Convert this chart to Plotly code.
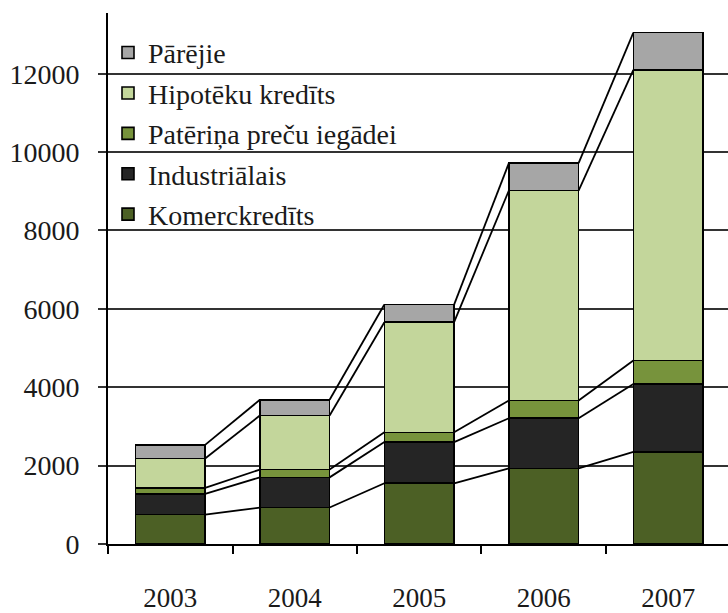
import plotly.graph_objects as go

# Loan portfolio by type, stacked per year
years = ["2003", "2004", "2005", "2006", "2007"]
komerckredits = [750, 930, 1550, 1930, 2350]
industrialais = [530, 770, 1050, 1280, 1730]
pateriņa = [150, 200, 250, 450, 600]
hipoteku = [750, 1380, 2810, 5360, 7420]
parejie = [350, 400, 450, 700, 950]

series = [
    ("Komerckredīts", komerckredits, "#4c6025"),
    ("Industriālais", industrialais, "#252525"),
    ("Patēriņa preču iegādei", pateriņa, "#77933c"),
    ("Hipotēku kredīts", hipoteku, "#c3d69b"),
    ("Pārējie", parejie, "#a6a6a6"),
]

BAR_WIDTH = 0.56
SERIF = "Liberation Serif"
TEXT = "#1a1a1a"
xpos = list(range(len(years)))

fig = go.Figure()

for rank, (name, vals, color) in enumerate(series):
    fig.add_trace(go.Bar(
        x=xpos, y=vals, name=name, width=BAR_WIDTH,
        marker=dict(color=color, line=dict(color="#000000", width=1.6)),
        legendgroup=name, legendrank=len(series) - rank,
    ))

# Series lines joining the top of each stacked segment between neighbouring bars
half = BAR_WIDTH / 2
cum = [0] * len(years)
for name, vals, color in series:
    cum = [c + v for c, v in zip(cum, vals)]
    xs, ys = [], []
    for i in range(len(years) - 1):
        xs += [i + half, i + 1 - half, None]
        ys += [cum[i], cum[i + 1], None]
    fig.add_trace(go.Scatter(
        x=xs, y=ys, mode="lines", showlegend=False, hoverinfo="skip",
        line=dict(color="#000000", width=1.8),
    ))

fig.update_layout(
    width=728, height=613,
    margin=dict(l=108, r=0, t=13, b=59),
    barmode="stack",
    plot_bgcolor="white", paper_bgcolor="white",
    font=dict(family=SERIF, size=27, color=TEXT),
    xaxis=dict(
        range=[-0.5, 4.48],
        tickvals=xpos, ticktext=years, ticks="",
        tickfont=dict(family=SERIF, size=27, color=TEXT),
        showgrid=False, zeroline=False,
        showline=True, linecolor="#000000", linewidth=2,
        minor=dict(tickvals=[-0.5, 0.5, 1.5, 2.5, 3.5], ticks="outside",
                   ticklen=8, tickwidth=2, tickcolor="#000000", showgrid=False),
        ticklabelstandoff=29,
    ),
    yaxis=dict(
        range=[0, 13550],
        tickvals=[0, 2000, 4000, 6000, 8000, 10000, 12000],
        tickformat="d",
        tickfont=dict(family=SERIF, size=28, color=TEXT),
        showgrid=True, gridcolor="#333333", gridwidth=2,
        ticks="outside", ticklen=8, tickwidth=2, tickcolor="#333333",
        showline=True, linecolor="#000000", linewidth=2, zeroline=False,
        ticklabelstandoff=13,
    ),
    legend=dict(
        x=0.0, y=0.972, xanchor="left", yanchor="top",
        bgcolor="rgba(0,0,0,0)", tracegroupgap=1,
        font=dict(family=SERIF, size=28, color=TEXT),
    ),
)

fig.write_html("out.html")
